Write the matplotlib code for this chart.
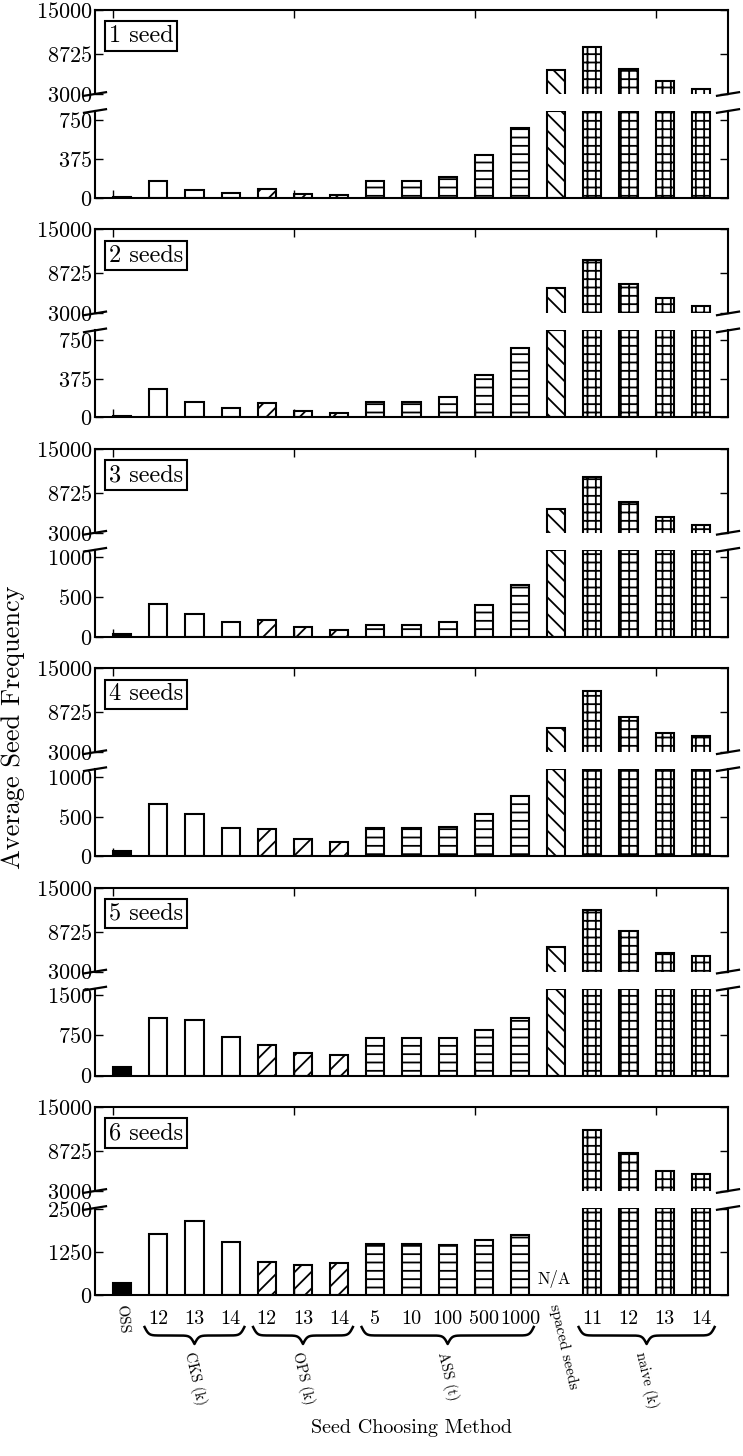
import numpy as np
import matplotlib
matplotlib.use('Agg')
import matplotlib.pyplot as plt
from matplotlib.transforms import blended_transform_factory

plt.rcParams['font.family'] = ['cmr10', 'DejaVu Serif']
plt.rcParams['axes.formatter.use_mathtext'] = True
plt.rcParams['hatch.linewidth'] = 1.3
plt.rcParams['axes.linewidth'] = 1.5

W, H = 743, 1456

#%%% data
bar_labels = ['OSS', '12', '13', '14', '12', '13', '14',
              '5', '10', '100', '500', '1000', 'spaced seeds',
              '11', '12', '13', '14']
groups = ['OSS', 'CKS', 'CKS', 'CKS', 'OPS', 'OPS', 'OPS',
          'ASS', 'ASS', 'ASS', 'ASS', 'ASS', 'spaced',
          'naive', 'naive', 'naive', 'naive']
group_names = {'CKS': 'CKS (k)', 'OPS': 'OPS (k)', 'ASS': 'ASS (t)', 'naive': 'naive (k)'}
panel_titles = ['1 seed', '2 seeds', '3 seeds', '4 seeds', '5 seeds', '6 seeds']

freq_1seed = [10, 164, 80, 47, 90, 40, 30, 160, 160, 207, 415, 672, 6400, 9725, 6550, 4820, 3750]
freq_2seed = [17, 272, 153, 88, 140, 65, 41, 150, 153, 200, 411, 673, 6630, 10650, 7150, 5270, 4090]
freq_3seed = [34, 415, 292, 182, 212, 119, 89, 144, 144, 191, 405, 658, 6470, 10950, 7340, 5310, 4160]
freq_4seed = [64, 658, 538, 354, 337, 218, 179, 350, 350, 363, 532, 760, 6470, 11800, 8060, 5750, 5310]
freq_5seed = [156, 1069, 1025, 712, 562, 425, 387, 687, 687, 700, 845, 1058, 6470, 11800, 8780, 5600, 5170]
freq_6seed = [352, 1760, 2148, 1540, 964, 862, 944, 1490, 1485, 1465, 1585, 1758, np.nan, 11680, 8500, 5900, 5460]
all_freqs = [freq_1seed, freq_2seed, freq_3seed, freq_4seed, freq_5seed, freq_6seed]

upper_ticks = [3000, 8725, 15000]
lower_max = [840, 840, 1097, 1097, 1611, 2530]
lower_ticks = [[0, 375, 750], [0, 375, 750], [0, 500, 1000],
               [0, 500, 1000], [0, 750, 1500], [0, 1250, 2500]]

hatch_of = {'OSS': '', 'CKS': '', 'OPS': '//', 'ASS': '--', 'spaced': '\\\\', 'naive': '++'}
face_of = {'OSS': 'black'}

x = np.arange(len(bar_labels))


def fy(px):
    return 1 - px / H


def draw_bars(ax, vals, top=None):
    h = np.asarray(vals, dtype=float)
    if top is not None:
        h = np.minimum(h, top)
    faces = [face_of.get(g, 'white') for g in groups]
    bars = ax.bar(x, h, width=0.5, align='edge', color=faces,
                  edgecolor='black', linewidth=1.5)
    for b, g in zip(bars, groups):
        b.set_hatch(hatch_of[g])


def break_marks(ax, y0, hpx):
    d = 11 / 633
    dy = 1.8 / hpx
    for xc in (0, 1):
        ax.plot([xc - d, xc + d], [y0 - dy, y0 + dy], transform=ax.transAxes,
                color='k', lw=1.6, clip_on=False)


def style_axes(ax):
    ax.set_xlim(-0.5, 17.0)
    ax.tick_params(axis='y', direction='in', left=True, right=True,
                   length=6, width=1, labelsize=16, pad=2)
    ax.tick_params(axis='x', direction='in', length=6, width=1, labelbottom=False)
    ax.set_xticks([0, 5, 10, 15])


fig = plt.figure(figsize=(W / 100, H / 100), dpi=100)
left, width = 95 / W, 633 / W

for k, vals in enumerate(all_freqs):
    top = 10 + 219.4 * k
    ax_up = fig.add_axes([left, fy(top + 84), width, 84 / H])
    ax_lo = fig.add_axes([left, fy(top + 188), width, 87 / H])

    draw_bars(ax_up, vals)
    ax_up.set_ylim(3000, 15000)
    ax_up.set_yticks(upper_ticks)
    style_axes(ax_up)
    ax_up.spines['bottom'].set_visible(False)
    ax_up.tick_params(axis='x', top=True, bottom=False)
    break_marks(ax_up, 0, 84)
    ax_up.text(0.022, 0.82, panel_titles[k], transform=ax_up.transAxes,
               ha='left', va='top', fontsize=17.5,
               bbox=dict(boxstyle='square,pad=0.15', fc='white', ec='black', lw=1.5))

    draw_bars(ax_lo, vals, top=lower_max[k])
    ax_lo.set_ylim(0, lower_max[k])
    ax_lo.set_yticks(lower_ticks[k])
    style_axes(ax_lo)
    ax_lo.spines['top'].set_visible(False)
    ax_lo.tick_params(axis='x', top=False, bottom=True)
    break_marks(ax_lo, 1, 87)

    if np.isnan(vals[12]):
        ax_lo.text(x[12] + 0.2, 0.08 * lower_max[k], 'N/A', ha='center',
                   va='bottom', fontsize=12)

# category labels and braces below the last panel
trans = blended_transform_factory(ax_lo.transData, fig.transFigure)
for i, lab in enumerate(bar_labels):
    cx = x[i] + 0.25
    if groups[i] == 'OSS':
        ax_lo.text(cx, fy(1304), lab, transform=trans, rotation=-85,
                   ha='center', va='top', fontsize=11)
    elif groups[i] == 'spaced':
        ax_lo.text(cx + 0.2, fy(1303), lab, transform=trans, rotation=-77,
                   ha='center', va='top', fontsize=11.5)
    else:
        ax_lo.text(cx, fy(1319), lab, transform=trans, ha='center',
                   va='center', fontsize=14.5)


def draw_brace(ax, x0, x1, ytop, hgt, tr):
    n = 201
    beta = 300. / 17.5
    xs = np.linspace(x0, x1, n)
    xh = xs[:n // 2 + 1]
    yh = (1 / (1. + np.exp(-beta * (xh - xh[0]))) +
          1 / (1. + np.exp(-beta * (xh - xh[-1]))))
    yb = np.concatenate((yh, yh[-2::-1]))
    ys = fy(ytop) - (yb - 0.5) * hgt / H
    ax.plot(xs, ys, color='k', lw=1.8, transform=tr, clip_on=False)


for g, name in group_names.items():
    idx = [i for i, gg in enumerate(groups) if gg == g]
    c0, c1 = x[idx[0]] + 0.25, x[idx[-1]] + 0.25
    draw_brace(ax_lo, c0 - 0.38, c1 + 0.38, 1327, 17, trans)
    ax_lo.text((c0 + c1) / 2, fy(1350), name, transform=trans, rotation=-77,
               ha='center', va='top', fontsize=10.5)

fig.text(13 / W, fy(727), 'Average Seed Frequency', rotation=90,
         ha='center', va='center', fontsize=19)
fig.text((95 + 633 / 2) / W, fy(1428), 'Seed Choosing Method',
         ha='center', va='center', fontsize=14.5)

plt.savefig('out.png', dpi=100)
